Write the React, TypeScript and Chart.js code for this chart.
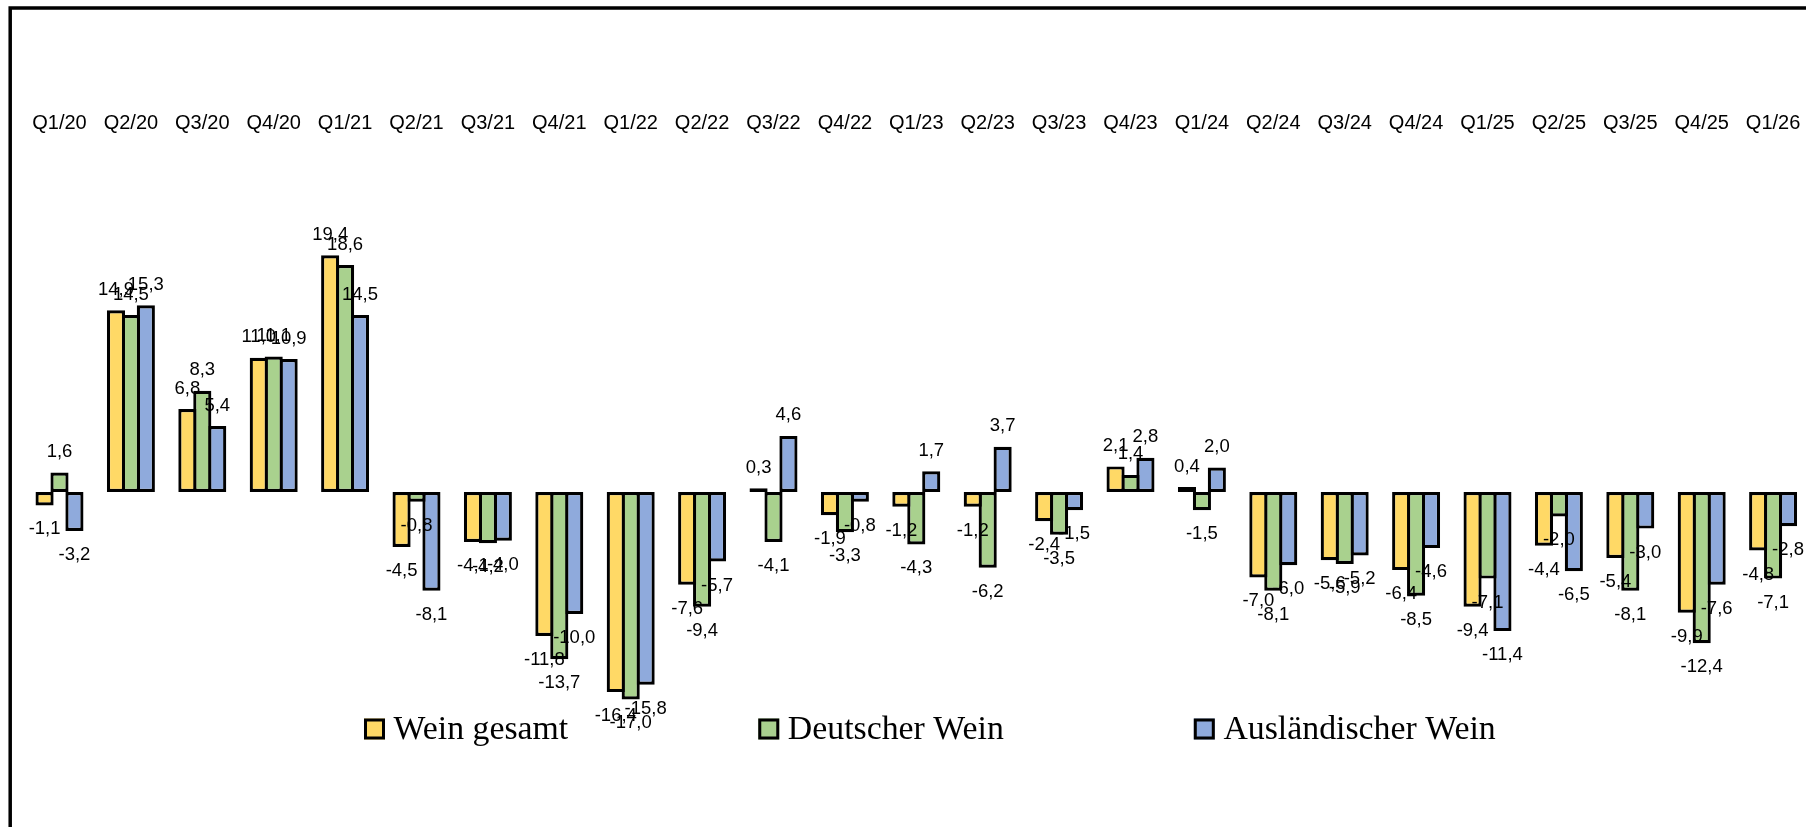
import React, { useEffect, useRef } from "react";
import { Chart, registerables } from "chart.js";

Chart.register(...registerables);

const categories = [
  "Q1/20", "Q2/20", "Q3/20", "Q4/20", "Q1/21", "Q2/21", "Q3/21", "Q4/21",
  "Q1/22", "Q2/22", "Q3/22", "Q4/22", "Q1/23", "Q2/23", "Q3/23", "Q4/23",
  "Q1/24", "Q2/24", "Q3/24", "Q4/24", "Q1/25", "Q2/25", "Q3/25", "Q4/25", "Q1/26",
];

const weinGesamt = [
  -1.1, 14.9, 6.8, 11.0, 19.4, -4.5, -4.1, -11.8, -16.4, -7.6, 0.3, -1.9, -1.2,
  -1.2, -2.4, 2.1, 0.4, -7.0, -5.6, -6.4, -9.4, -4.4, -5.4, -9.9, -4.8,
];

const deutscherWein = [
  1.6, 14.5, 8.3, 11.1, 18.6, -0.8, -4.2, -13.7, -17.0, -9.4, -4.1, -3.3, -4.3,
  -6.2, -3.5, 1.4, -1.5, -8.1, -5.9, -8.5, -7.1, -2.0, -8.1, -12.4, -7.1,
];

const auslaendischerWein = [
  -3.2, 15.3, 5.4, 10.9, 14.5, -8.1, -4.0, -10.0, -15.8, -5.7, 4.6, -0.8, 1.7,
  3.7, -1.5, 2.8, 2.0, -6.0, -5.2, -4.6, -11.4, -6.5, -3.0, -7.6, -2.8,
];

const seriesNames = ["Wein gesamt", "Deutscher Wein", "Ausländischer Wein"];
const seriesColors = ["#FFD966", "#A9D18E", "#8FAADC"];

const SANS = "'Liberation Sans', Arial, sans-serif";
const SERIF = "'Liberation Serif', 'Times New Roman', serif";

// vertical placement of the value axis (pixel of zero line, pixels per unit)
const ZERO_Y = 492;
const PX_PER_UNIT = 12.2;

const fmt = (v: number) => v.toFixed(1).replace(".", ",");

const framePlugin = {
  id: "frame",
  beforeDraw(chart: any) {
    const ctx = chart.ctx;
    ctx.save();
    ctx.fillStyle = "#fff";
    ctx.fillRect(0, 0, chart.width, chart.height);
    ctx.restore();
  },
  afterDraw(chart: any) {
    const ctx = chart.ctx;
    ctx.save();
    ctx.strokeStyle = "#000";
    ctx.lineWidth = 3.5;
    ctx.strokeRect(10.2, 8, 4000, 4000);
    ctx.restore();
  },
};

const valueLabelPlugin = {
  id: "valueLabels",
  afterDatasetsDraw(chart: any) {
    const ctx = chart.ctx;
    ctx.save();
    ctx.font = `18.5px ${SANS}`;
    ctx.fillStyle = "#000";
    ctx.textAlign = "center";
    ctx.textBaseline = "alphabetic";
    chart.data.datasets.forEach((ds: any, di: number) => {
      const meta = chart.getDatasetMeta(di);
      meta.data.forEach((el: any, i: number) => {
        const v = ds.data[i] as number;
        const y = v >= 0 ? el.y - 15.5 : el.y + 29;
        ctx.fillText(fmt(v), el.x, y);
      });
    });
    ctx.restore();
  },
};

const legendPlugin = {
  id: "customLegend",
  afterDraw(chart: any) {
    const ctx = chart.ctx;
    ctx.save();
    ctx.font = `33.8px ${SERIF}`;
    ctx.textBaseline = "alphabetic";
    ctx.textAlign = "left";
    let x = 364;
    const boxTop = 718.5;
    const box = 21;
    const gap = 190;
    chart.data.datasets.forEach((ds: any) => {
      ctx.fillStyle = ds.backgroundColor;
      ctx.fillRect(x, boxTop, box, box);
      ctx.strokeStyle = "#000";
      ctx.lineWidth = 3;
      ctx.strokeRect(x + 1.5, boxTop + 1.5, box - 3, box - 3);
      ctx.fillStyle = "#000";
      const tx = x + 29.6;
      ctx.fillText(ds.label, tx, 738.5);
      x = tx + ctx.measureText(ds.label).width + gap;
    });
    ctx.restore();
  },
};

export default function App() {
  const canvasRef = useRef<HTMLCanvasElement | null>(null);

  useEffect(() => {
    if (!canvasRef.current) return;
    const seriesData = [weinGesamt, deutscherWein, auslaendischerWein];
    const chart = new Chart(canvasRef.current, {
      type: "bar",
      data: {
        labels: categories,
        datasets: seriesData.map((d, i) => ({
          label: seriesNames[i],
          data: d,
          backgroundColor: seriesColors[i],
          borderColor: "#000",
          borderWidth: 3.2,
          borderSkipped: false,
          categoryPercentage: 0.6275,
          barPercentage: 1.214,
        })),
      },
      options: {
        animation: false,
        responsive: false,
        maintainAspectRatio: false,
        devicePixelRatio: 1,
        layout: { padding: { left: 23.8, right: 6.2, top: 108, bottom: 0 } },
        plugins: {
          legend: { display: false },
          tooltip: { enabled: false },
        },
        scales: {
          x: {
            position: "top",
            grid: { display: false },
            border: { display: false },
            ticks: {
              font: { family: SANS, size: 20 },
              color: "#000",
              padding: 3,
              maxRotation: 0,
              minRotation: 0,
              autoSkip: false,
              labelOffset: 0,
            },
          },
          y: {
            display: false,
            min: -27,
            max: 29,
          },
        },
      },
      plugins: [framePlugin, valueLabelPlugin, legendPlugin],
    });
    // fit the hidden value axis so that zero and the unit size land where the reference has them
    const area = chart.chartArea;
    const yOpts: any = (chart.options.scales as any).y;
    yOpts.max = (ZERO_Y - area.top) / PX_PER_UNIT;
    yOpts.min = -(area.bottom - ZERO_Y) / PX_PER_UNIT;
    chart.update("none");
    return () => chart.destroy();
  }, []);

  return (
    <div
      style={{
        position: "fixed",
        left: 0,
        top: 0,
        width: 1806,
        height: 827,
        overflow: "hidden",
        background: "#fff",
      }}
    >
      <canvas
        ref={canvasRef}
        width={1815}
        height={827}
        style={{ display: "block", width: 1815, height: 827 }}
      />
    </div>
  );
}
